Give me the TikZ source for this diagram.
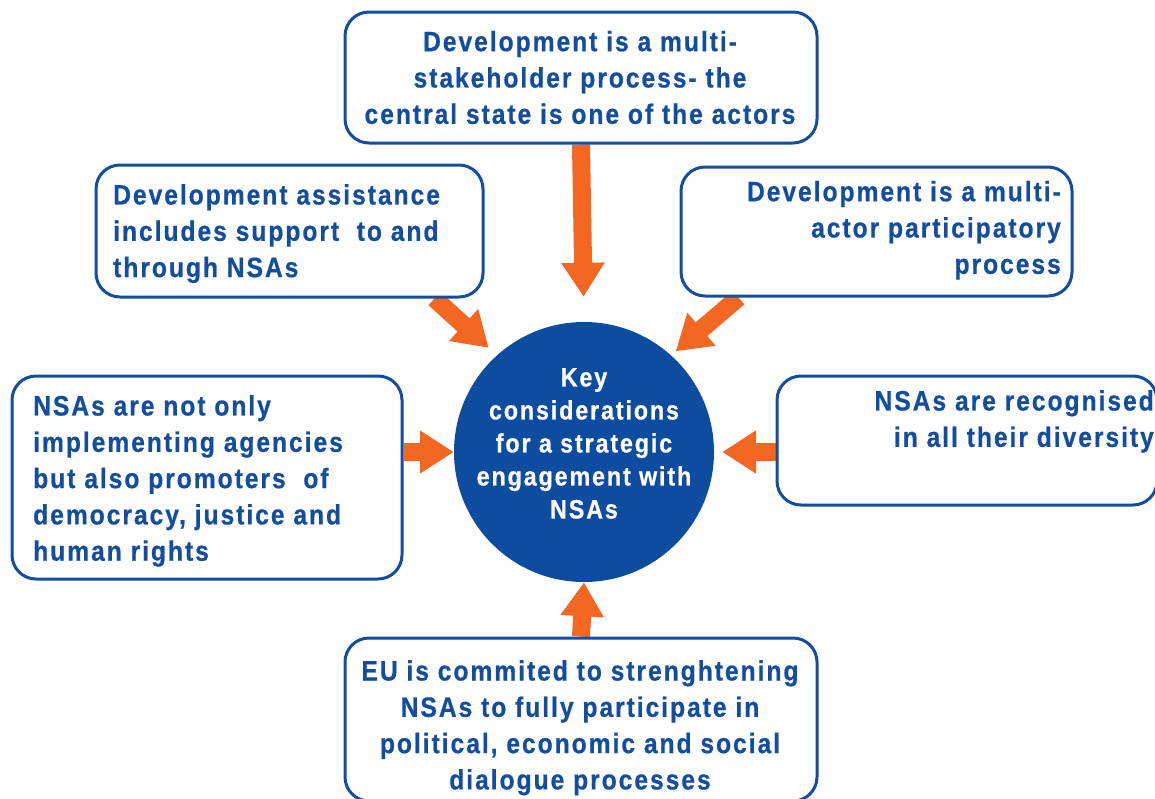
\documentclass[tikz,border=0pt]{standalone}
\usepackage{fontspec}
\usetikzlibrary{arrows.meta,backgrounds}
\newfontfamily\panelfont[FakeStretch=0.88,LetterSpace=7,BoldFeatures={FakeBold=0.6}]{Liberation Sans}
\definecolor{nsablue}{RGB}{18,77,160}
\definecolor{hubblue}{RGB}{14,76,160}
\definecolor{nsaorange}{RGB}{243,103,34}
\begin{document}
\begin{tikzpicture}[x=1pt,y=-1pt,
  panel/.style={draw=nsablue, line width=3pt, rounded corners=24pt, fill=white, inner sep=0pt},
  caption/.style={text=nsablue, inner sep=0pt, font=\panelfont\bfseries\fontsize{28}{36.3}\selectfont},
  hubcaption/.style={text=white, inner sep=0pt, align=center, font=\panelfont\bfseries\fontsize{26.5}{33}\selectfont},
  feed/.style={draw=nsaorange, line width=18pt, -{Triangle[width=41pt,length=34pt]}},
]
\clip (0,0) rectangle (1155,798);
\useasboundingbox (0,0) rectangle (1155,798);

% central hub
\node[circle, fill=hubblue, minimum size=260pt, inner sep=0pt] (hub) at (584,452) {};
\node[hubcaption, anchor=north] (hubtext) at (584,368)
  {Key\\considerations\\for a strategic\\engagement with\\NSAs};

% surrounding panels
\node[panel, minimum width=472pt, minimum height=131pt] (top) at (581,77.5) {};
\node[panel, minimum width=387pt, minimum height=132pt] (ul)  at (289.5,231) {};
\node[panel, minimum width=391pt, minimum height=129pt] (ur)  at (876.5,231.5) {};
\node[panel, minimum width=390pt, minimum height=203pt] (lt)  at (207,477.5) {};
\node[panel, minimum width=380pt, minimum height=129pt] (rt)  at (967,440.5) {};
\node[panel, minimum width=472pt, minimum height=163pt] (bot) at (581,719.5) {};

% panel texts
\node[caption, anchor=north, align=center] (ttop) at (580,30.7)
  {Development is a multi-\\stakeholder process- the\\central state is one of the actors};
\node[caption, anchor=north west, align=left] (tul) at (113,184)
  {Development assistance\\includes support\ \ to and\\through NSAs};
\node[caption, anchor=north east, align=right] (tur) at (1061,180.7)
  {Development is a multi-\\actor participatory\\process};
\node[caption, anchor=north west, align=left] (tlt) at (33,395)
  {NSAs are not only\\implementing agencies\\but also promoters\ \ of\\democracy, justice and\\human rights};
\node[caption, anchor=north east, align=right] (trt) at (1154,390)
  {NSAs are recognised\\in all their diversity};
\node[caption, anchor=north, align=center] (tbot) at (580,660)
  {EU is commited to strenghtening\\NSAs to fully participate in\\political, economic and social\\dialogue processes};

% arrows feeding into the hub
\begin{scope}[on background layer]
  \draw[feed, shorten >=25pt] (top.south) -- (hub.north);
  \draw[feed] (bot.north) -- (hub.south);
  \draw[feed] (lt.east |- hub.west) -- (hub.west);
  \draw[feed, shorten >=8pt] (rt.west |- hub.east) -- (hub.east);
  \draw[feed, shorten >=11pt] ([xshift=-50pt]ul.south east) -- (hub.132.7);
  \draw[feed, shorten >=6pt] ([xshift=59pt]ur.south west) -- (hub.48.3);
\end{scope}
\end{tikzpicture}
\end{document}
